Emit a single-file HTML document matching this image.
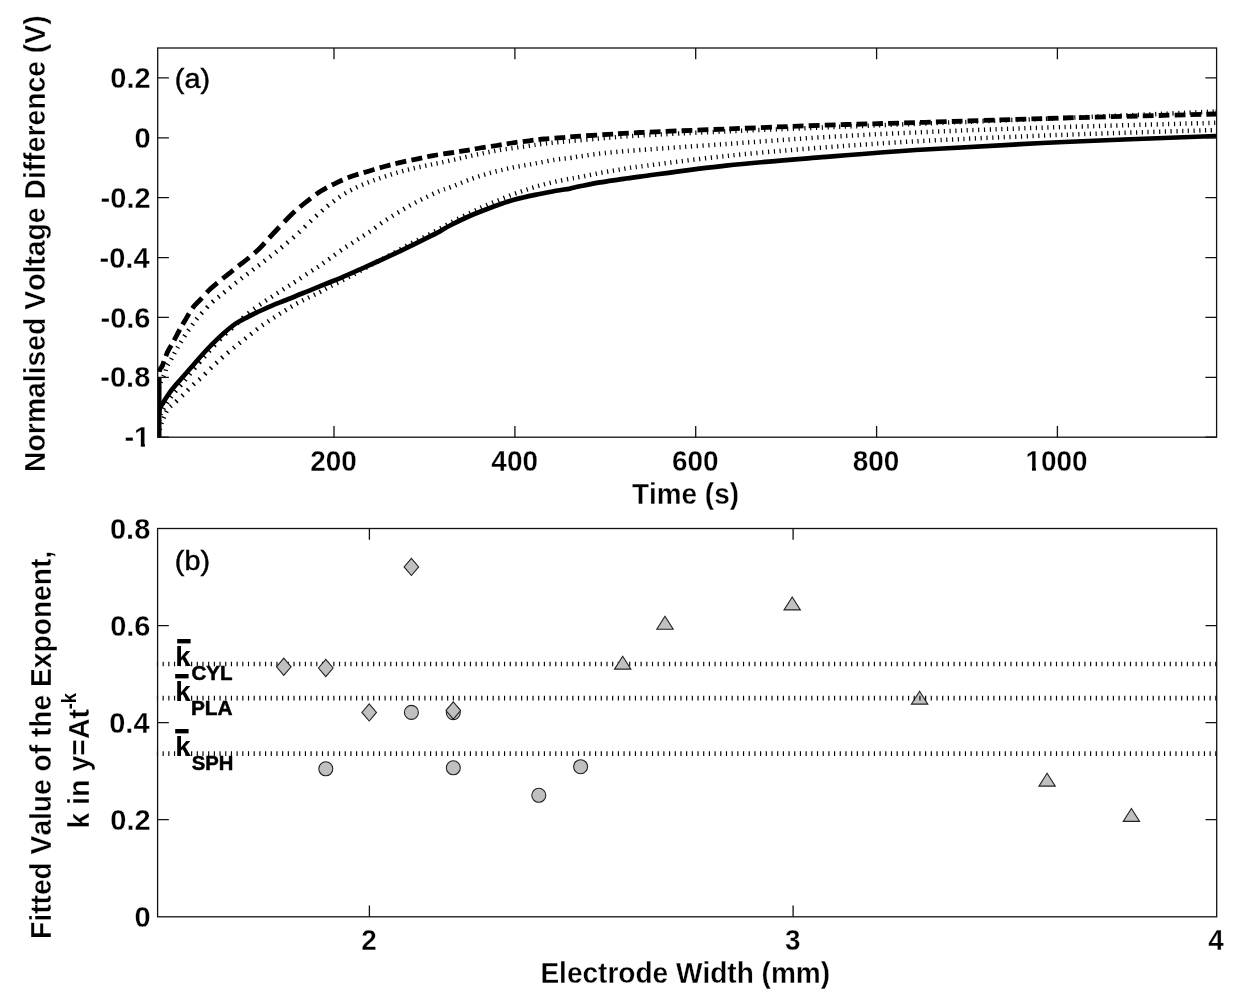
<!DOCTYPE html>
<html><head><meta charset="utf-8"><title>Figure</title>
<style>html,body{margin:0;padding:0;background:#fff}svg{display:block}text{font-family:"Liberation Sans",sans-serif;fill:#000;font-kerning:none}.b{font-weight:bold;stroke:#fff;stroke-width:0.3px;paint-order:fill stroke}.v{font-weight:bold;stroke:#fff;stroke-width:0.35px;paint-order:fill stroke}.k{font-weight:bold}.r{stroke:#000;stroke-width:0.45px}.s{font-weight:bold;stroke:#000;stroke-width:0.5px}</style></head><body>
<svg width="1250" height="1000" viewBox="0 0 1250 1000">
<rect width="1250" height="1000" fill="#fff"/>
<clipPath id="ct"><rect x="157.7" y="48.0" width="1058.9" height="390.2"/></clipPath>
<g clip-path="url(#ct)" fill="none" stroke="#000" stroke-width="4.5">
<path d="M158.0 394.0 C158.3 392.3 158.9 387.3 160.0 384.0 C161.1 380.7 163.3 376.9 164.5 374.0 C165.7 371.1 166.0 368.8 167.0 366.5 C168.0 364.2 169.4 362.4 170.5 360.5 C171.6 358.6 172.5 356.8 173.5 355.0 C174.5 353.2 175.4 351.4 176.5 349.5 C177.6 347.6 178.4 346.1 180.0 343.5 C181.6 340.9 183.8 337.2 186.0 334.0 C188.2 330.8 190.7 327.2 193.0 324.0 C195.3 320.8 196.8 318.6 200.0 315.0 C203.2 311.4 208.0 306.1 212.0 302.4 C216.0 298.7 220.0 295.9 224.0 292.6 C228.0 289.3 232.0 286.0 236.0 282.8 C240.0 279.6 244.0 276.6 248.0 273.5 C252.0 270.4 256.0 267.4 260.0 264.4 C264.0 261.3 268.0 258.3 272.0 255.2 C276.0 252.0 279.3 249.4 284.0 245.5 C288.7 241.6 295.0 236.1 300.0 231.5 C305.0 226.9 309.3 222.3 314.0 218.0 C318.7 213.7 323.3 209.6 328.0 205.8 C332.7 202.0 337.3 198.3 342.0 195.3 C346.7 192.3 351.3 189.9 356.0 187.6 C360.7 185.3 365.3 183.5 370.0 181.7 C374.7 179.9 379.3 178.4 384.0 176.8 C388.7 175.2 393.3 173.8 398.0 172.4 C402.7 171.1 407.3 169.8 412.0 168.7 C416.7 167.6 421.3 166.6 426.0 165.6 C430.7 164.6 434.7 163.9 440.0 162.8 C445.3 161.7 452.7 160.0 458.0 158.8 C463.3 157.6 467.3 156.6 472.0 155.6 C476.7 154.6 481.3 153.6 486.0 152.7 C490.7 151.8 495.3 150.8 500.0 150.0 C504.7 149.2 509.3 148.7 514.0 148.0 C518.7 147.3 523.3 146.7 528.0 146.0 C532.7 145.3 536.7 144.7 542.0 144.0 C547.3 143.3 550.3 142.9 560.0 142.0 C569.7 141.1 586.7 139.6 600.0 138.5 C613.3 137.4 619.0 136.7 640.0 135.5 C661.0 134.3 695.7 132.8 726.0 131.5 C756.3 130.2 788.8 128.8 822.0 127.5 C855.2 126.2 884.7 125.1 925.0 123.5 C965.3 121.9 1015.5 120.0 1064.0 118.0 C1112.5 116.0 1190.7 112.6 1216.0 111.5" stroke-dasharray="1.17 4.66 1.17 4.80 1.25 5.11 1.27 4.92 1.20 4.94 1.32 5.38 1.31 5.23 1.31 5.26 1.32 5.37 1.35 5.43 1.37 5.54 1.40 5.64 1.43 5.72 1.46 6.05 1.55 6.28 1.60 6.41 1.55 5.97 1.46 5.86 1.49 5.96 1.49 5.93 1.47 5.84 1.45 5.80 1.45 5.78 1.44 5.77 1.44 5.78 1.44 5.80 1.46 5.85 1.47 5.92 1.50 6.03 1.52 6.09 1.53 6.16 1.55 6.34 1.61 6.46 1.60 6.29 1.55 6.15 1.52 6.01 1.48 5.88 1.45 5.72 1.40 5.48 1.34 5.26 1.30 5.14 1.27 5.04 1.25 4.96 1.23 4.92 1.22 4.87 1.21 4.85 1.21 4.83 1.21 4.81 1.20 4.78 1.19 4.76 1.19 4.74 1.18 4.71 1.18 4.70 1.18 4.69 1.17 4.69 1.17 4.70 1.18 4.71 1.18 4.71 1.18 4.72 1.18 4.72 1.18 4.72 1.18 4.70 1.17 4.70 1.17 4.69 1.17 4.69 1.17 4.67 1.17 4.65 1.16 4.64 1.16 4.65 1.16 4.65 1.16 4.65 1.16 4.65 1.16 4.65 1.16 4.64 1.16 4.63 1.16 4.62 1.16 4.62 1.15 4.62 1.15 4.62 1.15 4.62 1.15 4.62 1.15 4.62 1.15 4.62 1.15 4.62 1.15 4.62 1.15 4.62 1.15 4.61 1.15 4.61 1.15 4.61 1.15 4.61 1.15 4.61 1.15 4.61 1.15 4.61 1.15 4.61 1.15 4.61 1.15 4.61 1.15 4.60 1.15 4.60 1.15 4.60 1.15 4.60 1.15 4.60 1.15 4.60 1.15 4.60 1.15 4.60 1.15 4.60 1.15 4.60 1.15 4.60 1.15 4.60 1.15 4.60 1.15 4.60 1.15 4.60 1.15 4.60 1.15 4.60 1.15 4.60 1.15 4.60 1.15 4.60 1.15 4.60 1.15 4.60 1.15 4.60 1.15 4.60 1.15 4.60 1.15 4.60 1.15 4.60 1.15 4.60 1.15 4.60 1.15 4.60 1.15 4.60 1.15 4.60 1.15 4.60 1.15 4.60 1.15 4.60 1.15 4.60 1.15 4.60 1.15 4.60 1.15 4.60 1.15 4.60 1.15 4.60 1.15 4.60 1.15 4.60 1.15 4.60 1.15 4.60 1.15 4.60 1.15 4.60 1.15 4.60 1.15 4.60 1.15 4.60 1.15 4.60 1.15 4.60 1.15 4.60 1.15 4.60 1.15 4.60 1.15 4.60 1.15 4.60 1.15 4.60 1.15 4.60 1.15 4.60 1.15 4.60 1.15 4.60 1.15 4.60 1.15 4.60 1.15 4.60 1.15 4.60 1.15 4.60 1.15 4.60 1.15 4.60 1.15 4.60 1.15 4.60 1.15 4.60 1.15 4.60 1.15 4.60 1.15 4.60 1.15 4.60 1.15 4.60 1.15 4.60 1.15 4.60 1.15 4.60 1.15 4.60 1.15 4.60 1.15 4.60 1.15 4.60 1.15 4.60 1.15 4.60 1.15 4.60 1.15 4.60 1.15 4.60 1.15 4.60 1.15 4.60 1.15 4.60 1.15 4.60 1.15 4.60 1.15 2.03"/>
<path d="M158.0 430.0 C158.3 427.7 159.0 419.7 160.0 416.0 C161.0 412.3 162.5 410.7 164.0 408.0 C165.5 405.3 167.2 402.7 169.0 400.0 C170.8 397.3 172.8 394.7 175.0 392.0 C177.2 389.3 179.6 386.9 182.0 384.0 C184.4 381.1 186.7 378.0 189.5 374.5 C192.3 371.0 196.6 365.8 199.0 363.0 C201.4 360.2 201.8 360.0 204.0 357.5 C206.2 355.0 208.7 351.7 212.0 348.0 C215.3 344.3 220.0 339.4 224.0 335.5 C228.0 331.6 232.7 327.6 236.0 324.5 C239.3 321.4 241.4 319.3 244.0 317.0 C246.6 314.7 248.5 313.1 251.6 310.8 C254.7 308.5 258.6 305.6 262.4 303.0 C266.2 300.4 270.4 297.6 274.4 295.0 C278.4 292.4 282.6 289.8 286.4 287.4 C290.2 285.0 293.3 283.1 297.2 280.5 C301.1 277.9 306.2 274.5 310.0 272.0 C313.8 269.5 316.7 267.8 320.0 265.5 C323.3 263.2 326.3 261.0 330.0 258.4 C333.7 255.7 337.7 252.6 342.0 249.6 C346.3 246.6 351.3 243.6 356.0 240.6 C360.7 237.6 365.3 234.7 370.0 231.5 C374.7 228.3 379.3 224.5 384.0 221.3 C388.7 218.2 393.3 215.4 398.0 212.6 C402.7 209.8 407.3 206.9 412.0 204.4 C416.7 201.9 421.3 199.6 426.0 197.3 C430.7 195.0 435.8 192.5 440.0 190.8 C444.2 189.1 445.7 189.0 451.0 187.0 C456.3 185.0 465.0 181.2 472.0 178.7 C479.0 176.2 486.0 174.1 493.0 172.2 C500.0 170.3 507.0 168.8 514.0 167.3 C521.0 165.9 528.0 164.8 535.0 163.5 C542.0 162.2 550.2 160.5 556.0 159.6 C561.8 158.7 566.0 158.5 570.0 158.0 C574.0 157.5 575.0 157.1 580.0 156.4 C585.0 155.7 593.3 154.4 600.0 153.6 C606.7 152.8 613.3 152.2 620.0 151.6 C626.7 151.0 622.3 151.3 640.0 150.0 C657.7 148.7 695.7 146.1 726.0 144.0 C756.3 141.9 788.8 139.3 822.0 137.3 C855.2 135.3 884.7 133.7 925.0 132.0 C965.3 130.3 1015.5 128.5 1064.0 127.0 C1112.5 125.5 1190.7 123.5 1216.0 122.8" stroke-dasharray="0.00 3.78 1.16 4.64 1.16 4.73 1.23 5.28 1.33 5.37 1.37 5.59 1.43 5.84 1.51 6.17 1.52 5.91 1.46 5.85 1.48 5.95 1.49 6.00 1.52 6.24 1.50 5.95 1.51 6.19 1.57 6.36 1.61 6.45 1.58 6.23 1.54 6.22 1.58 6.34 1.55 6.03 1.47 5.78 1.43 5.66 1.41 5.58 1.39 5.52 1.37 5.48 1.36 5.44 1.36 5.44 1.36 5.45 1.37 5.50 1.38 5.53 1.38 5.51 1.37 5.47 1.37 5.57 1.41 5.66 1.42 5.73 1.44 5.70 1.41 5.53 1.37 5.44 1.36 5.46 1.36 5.46 1.37 5.51 1.39 5.68 1.44 5.74 1.42 5.56 1.37 5.42 1.34 5.37 1.34 5.37 1.34 5.32 1.32 5.23 1.30 5.15 1.28 5.12 1.28 5.10 1.27 5.05 1.25 4.92 1.21 4.84 1.22 4.94 1.24 4.97 1.24 4.95 1.23 4.90 1.22 4.85 1.21 4.82 1.20 4.79 1.19 4.76 1.19 4.74 1.18 4.72 1.18 4.70 1.17 4.69 1.17 4.67 1.17 4.67 1.17 4.67 1.17 4.68 1.17 4.68 1.17 4.68 1.17 4.65 1.16 4.63 1.16 4.63 1.16 4.66 1.17 4.65 1.16 4.65 1.16 4.65 1.16 4.64 1.16 4.63 1.16 4.62 1.16 4.62 1.15 4.62 1.16 4.62 1.15 4.61 1.15 4.61 1.15 4.61 1.15 4.61 1.15 4.61 1.15 4.61 1.15 4.61 1.15 4.61 1.15 4.61 1.15 4.61 1.15 4.61 1.15 4.61 1.15 4.61 1.15 4.61 1.15 4.61 1.15 4.61 1.15 4.61 1.15 4.61 1.15 4.61 1.15 4.61 1.15 4.61 1.15 4.61 1.15 4.61 1.15 4.61 1.15 4.61 1.15 4.61 1.15 4.61 1.15 4.61 1.15 4.61 1.15 4.61 1.15 4.61 1.15 4.61 1.15 4.61 1.15 4.61 1.15 4.61 1.15 4.61 1.15 4.61 1.15 4.61 1.15 4.61 1.15 4.61 1.15 4.61 1.15 4.61 1.15 4.61 1.15 4.61 1.15 4.61 1.15 4.61 1.15 4.61 1.15 4.60 1.15 4.60 1.15 4.60 1.15 4.60 1.15 4.60 1.15 4.60 1.15 4.60 1.15 4.60 1.15 4.60 1.15 4.60 1.15 4.60 1.15 4.60 1.15 4.60 1.15 4.60 1.15 4.60 1.15 4.60 1.15 4.60 1.15 4.60 1.15 4.60 1.15 4.60 1.15 4.60 1.15 4.60 1.15 4.60 1.15 4.60 1.15 4.60 1.15 4.60 1.15 4.60 1.15 4.60 1.15 4.60 1.15 4.60 1.15 4.60 1.15 4.60 1.15 4.60 1.15 4.60 1.15 4.60 1.15 4.60 1.15 4.60 1.15 4.60 1.15 4.60 1.15 4.60 1.15 4.60 1.15 4.60 1.15 4.60 1.15 4.60 1.15 4.60 1.15 4.60 1.15 4.60 1.15 4.60 1.15 4.60 1.15 4.60 1.15 4.60 1.15 4.60 1.15 4.60 1.15 4.60 1.15 4.60 1.15 0.62"/>
<path d="M158.0 437.0 C158.5 435.0 160.0 428.3 161.0 425.0 C162.0 421.7 162.8 419.7 164.0 417.0 C165.2 414.3 166.3 411.2 168.0 409.0 C169.7 406.8 171.3 406.0 174.0 403.5 C176.7 401.0 181.5 396.4 184.0 394.0 C186.5 391.6 187.2 390.8 189.0 389.0 C190.8 387.2 193.0 384.8 195.0 383.0 C197.0 381.2 199.1 379.8 201.0 378.0 C202.9 376.2 204.7 374.3 206.5 372.5 C208.3 370.7 210.2 368.8 212.0 367.0 C213.8 365.2 215.5 363.8 217.5 362.0 C219.5 360.2 220.9 358.7 224.0 356.0 C227.1 353.3 232.0 349.2 236.0 346.0 C240.0 342.8 244.0 339.7 248.0 336.5 C252.0 333.3 256.0 329.9 260.0 327.0 C264.0 324.1 268.0 321.6 272.0 319.0 C276.0 316.4 280.0 313.7 284.0 311.2 C288.0 308.7 292.0 306.2 296.0 304.0 C300.0 301.8 304.0 299.8 308.0 297.8 C312.0 295.8 316.3 293.9 320.0 292.0 C323.7 290.1 325.0 289.1 330.0 286.5 C335.0 283.9 343.3 280.0 350.0 276.5 C356.7 273.0 363.3 269.1 370.0 265.5 C376.7 261.9 383.3 258.6 390.0 255.0 C396.7 251.4 403.3 247.5 410.0 244.0 C416.7 240.5 423.2 237.6 430.0 234.0 C436.8 230.4 444.0 226.2 451.0 222.5 C458.0 218.8 466.2 214.8 472.0 212.0 C477.8 209.2 481.3 207.5 486.0 205.4 C490.7 203.3 495.3 201.5 500.0 199.6 C504.7 197.7 509.3 195.7 514.0 194.0 C518.7 192.3 523.3 190.7 528.0 189.2 C532.7 187.7 537.3 186.2 542.0 184.9 C546.7 183.6 551.3 182.5 556.0 181.5 C560.7 180.5 566.0 179.4 570.0 178.7 C574.0 177.9 575.0 177.9 580.0 177.0 C585.0 176.1 593.3 174.2 600.0 173.0 C606.7 171.8 613.3 170.7 620.0 169.6 C626.7 168.5 622.3 168.8 640.0 166.5 C657.7 164.2 695.7 159.2 726.0 156.0 C756.3 152.8 788.8 150.1 822.0 147.6 C855.2 145.1 884.7 142.9 925.0 140.8 C965.3 138.7 1015.5 136.6 1064.0 134.8 C1112.5 133.0 1190.7 130.8 1216.0 130.0" stroke-dasharray="0.00 1.80 1.18 4.73 1.19 4.78 1.21 4.94 1.25 5.03 1.29 5.81 1.48 6.17 1.58 6.35 1.59 6.44 1.62 6.45 1.60 6.01 1.49 6.35 1.61 6.47 1.61 6.24 1.55 6.31 1.55 6.06 1.50 5.97 1.49 5.91 1.47 5.85 1.46 5.88 1.48 5.90 1.46 5.71 1.39 5.51 1.37 5.49 1.38 5.50 1.37 5.44 1.35 5.39 1.34 5.30 1.31 5.19 1.29 5.14 1.28 5.10 1.27 5.12 1.29 5.28 1.32 5.21 1.29 5.13 1.28 5.13 1.28 5.15 1.30 5.22 1.31 5.26 1.32 5.27 1.31 5.23 1.30 5.19 1.30 5.18 1.30 5.20 1.30 5.24 1.32 5.27 1.32 5.26 1.31 5.20 1.29 5.14 1.28 5.12 1.28 5.15 1.30 5.22 1.31 5.27 1.32 5.26 1.31 5.21 1.30 5.16 1.29 5.14 1.28 5.12 1.28 5.12 1.28 5.10 1.27 5.05 1.25 4.99 1.24 4.96 1.24 4.97 1.24 4.96 1.24 4.92 1.22 4.87 1.21 4.85 1.21 4.83 1.21 4.81 1.20 4.77 1.19 4.74 1.18 4.72 1.18 4.70 1.17 4.69 1.17 4.68 1.16 4.66 1.17 4.69 1.17 4.70 1.17 4.69 1.17 4.68 1.17 4.67 1.17 4.66 1.17 4.66 1.17 4.68 1.17 4.66 1.16 4.64 1.16 4.64 1.16 4.64 1.16 4.64 1.16 4.64 1.16 4.64 1.16 4.64 1.16 4.64 1.16 4.64 1.16 4.64 1.16 4.63 1.16 4.63 1.16 4.63 1.16 4.63 1.16 4.63 1.16 4.63 1.16 4.62 1.16 4.62 1.16 4.62 1.16 4.62 1.16 4.62 1.16 4.62 1.15 4.62 1.15 4.62 1.15 4.62 1.15 4.62 1.15 4.62 1.15 4.62 1.15 4.62 1.15 4.61 1.15 4.61 1.15 4.61 1.15 4.61 1.15 4.61 1.15 4.61 1.15 4.61 1.15 4.61 1.15 4.61 1.15 4.61 1.15 4.61 1.15 4.61 1.15 4.61 1.15 4.61 1.15 4.61 1.15 4.61 1.15 4.61 1.15 4.61 1.15 4.61 1.15 4.61 1.15 4.61 1.15 4.61 1.15 4.61 1.15 4.61 1.15 4.61 1.15 4.61 1.15 4.61 1.15 4.61 1.15 4.60 1.15 4.60 1.15 4.60 1.15 4.60 1.15 4.60 1.15 4.60 1.15 4.60 1.15 4.60 1.15 4.60 1.15 4.60 1.15 4.60 1.15 4.60 1.15 4.60 1.15 4.60 1.15 4.60 1.15 4.60 1.15 4.60 1.15 4.60 1.15 4.60 1.15 4.60 1.15 4.60 1.15 4.60 1.15 4.60 1.15 4.60 1.15 4.60 1.15 4.60 1.15 4.60 1.15 4.60 1.15 4.60 1.15 4.60 1.15 4.60 1.15 4.60 1.15 4.60 1.15 4.60 1.15 4.60 1.15 4.60 1.15 4.60 1.15 4.60 1.15 4.60 1.15 4.60 1.15 4.60 1.15 4.60 1.15 4.60 1.15 4.60 1.15 4.02"/>
<path d="M158.0 388.0 C158.2 385.2 158.8 374.8 159.5 371.0 C160.2 367.2 161.2 368.7 162.5 365.5 C163.8 362.3 165.7 356.0 167.5 352.0 C169.3 348.0 171.6 345.0 173.5 341.5 C175.4 338.0 177.1 334.5 179.0 331.0 C180.9 327.5 182.7 324.4 185.0 320.5 C187.3 316.6 190.5 310.9 193.0 307.5 C195.5 304.1 197.0 303.2 200.0 300.0 C203.0 296.8 206.8 292.2 210.8 288.5 C214.8 284.8 219.8 280.9 224.0 277.5 C228.2 274.1 232.0 271.2 236.0 268.0 C240.0 264.8 244.0 261.8 248.0 258.5 C252.0 255.2 256.3 251.6 260.0 248.0 C263.7 244.4 265.0 242.3 270.0 237.0 C275.0 231.7 284.3 221.6 290.0 216.0 C295.7 210.4 299.0 207.7 304.2 203.5 C309.4 199.3 315.6 194.4 321.0 191.0 C326.4 187.6 331.3 185.2 336.4 182.8 C341.5 180.4 346.4 178.2 351.8 176.3 C357.2 174.4 363.0 172.9 368.6 171.2 C374.2 169.5 380.0 167.7 385.4 166.2 C390.8 164.7 395.4 163.6 400.8 162.4 C406.2 161.2 412.2 159.9 417.6 158.8 C423.0 157.7 427.6 156.6 433.0 155.6 C438.4 154.6 444.7 153.8 450.0 153.0 C455.3 152.2 460.0 151.4 465.0 150.6 C470.0 149.8 474.7 148.8 480.0 148.0 C485.3 147.2 491.7 146.3 497.0 145.5 C502.3 144.7 506.7 143.8 512.0 143.0 C517.3 142.2 523.7 141.5 529.0 140.8 C534.3 140.1 538.6 139.5 544.0 139.0 C549.4 138.5 556.3 138.1 561.6 137.7 C566.9 137.3 568.3 136.9 576.0 136.4 C583.7 135.9 597.3 135.1 608.0 134.4 C618.7 133.8 620.3 133.4 640.0 132.5 C659.7 131.6 695.7 130.2 726.0 129.0 C756.3 127.8 788.8 126.4 822.0 125.3 C855.2 124.2 884.7 123.5 925.0 122.3 C965.3 121.1 1015.5 119.4 1064.0 118.0 C1112.5 116.6 1190.7 114.7 1216.0 114.0" stroke-dasharray="10.83 5.13 11.96 5.40 12.09 5.90 12.20 5.86 12.53 6.04 14.53 6.89 14.56 6.54 13.80 6.49 13.82 6.68 14.66 6.82 14.79 7.03 15.01 6.76 13.83 6.36 12.81 5.74 11.92 5.52 11.43 5.31 11.27 5.33 11.21 5.25 11.08 5.21 11.04 5.22 10.98 5.16 10.92 5.16 10.95 5.18 10.94 5.15 10.93 5.18 10.92 5.14 10.88 5.14 10.85 5.11 10.83 5.13 10.83 5.11 10.82 5.11 10.82 5.11 10.82 5.11 10.81 5.10 10.81 5.10 10.81 5.10 10.81 5.10 10.81 5.10 10.81 5.10 10.81 5.10 10.81 5.10 10.81 5.10 10.81 5.10 10.81 5.10 10.81 5.10 10.81 5.10 10.80 5.10 10.80 5.10 10.80 5.10 10.80 5.10 10.80 5.10 10.80 5.10 10.81 5.10 10.81 5.10 10.81 5.10 10.81 5.10 10.81 5.10 10.81 5.10 10.80 5.10 10.80 5.10 10.80 5.10 10.80 5.10 10.80 5.10 10.80 5.10 10.80 5.10 10.80 5.10 10.80 5.10 10.80 5.10 10.80 5.10 9.73 0.00" stroke-width="4.8"/>
<path d="M158.0 428.0 C158.2 425.0 158.7 414.2 159.5 410.0 C160.3 405.8 161.6 405.5 163.0 403.0 C164.4 400.5 166.2 397.7 168.0 395.0 C169.8 392.3 171.8 389.7 174.0 387.0 C176.2 384.3 178.7 381.7 181.0 379.0 C183.3 376.3 185.7 373.7 188.0 371.0 C190.3 368.3 192.7 365.7 195.0 363.0 C197.3 360.3 199.2 358.1 202.0 355.0 C204.8 351.9 208.3 348.1 212.0 344.4 C215.7 340.7 220.0 336.5 224.0 333.0 C228.0 329.5 232.0 326.1 236.0 323.4 C240.0 320.7 244.0 318.9 248.0 316.8 C252.0 314.7 256.0 312.9 260.0 311.0 C264.0 309.1 268.0 307.3 272.0 305.6 C276.0 303.9 280.0 302.4 284.0 300.8 C288.0 299.2 291.7 297.8 296.0 296.0 C300.3 294.2 304.7 292.5 310.0 290.3 C315.3 288.1 322.7 285.1 328.0 283.0 C333.3 280.9 337.3 279.4 342.0 277.4 C346.7 275.4 351.3 273.3 356.0 271.2 C360.7 269.1 365.3 267.0 370.0 264.9 C374.7 262.8 379.3 260.7 384.0 258.6 C388.7 256.5 393.3 254.4 398.0 252.2 C402.7 250.0 407.3 247.6 412.0 245.3 C416.7 243.0 421.3 240.6 426.0 238.3 C430.7 236.0 435.8 233.5 440.0 231.3 C444.2 229.1 445.7 227.7 451.0 225.0 C456.3 222.3 465.0 218.0 472.0 215.0 C479.0 212.0 487.8 208.8 493.0 206.8 C498.2 204.8 499.5 204.4 503.0 203.2 C506.5 202.0 508.7 201.2 514.0 199.8 C519.3 198.4 528.0 196.4 535.0 194.9 C542.0 193.4 550.2 191.9 556.0 190.8 C561.8 189.8 566.0 189.3 570.0 188.6 C574.0 187.8 575.0 187.3 580.0 186.3 C585.0 185.3 593.3 183.6 600.0 182.4 C606.7 181.2 613.3 180.4 620.0 179.4 C626.7 178.4 622.3 178.9 640.0 176.6 C657.7 174.3 695.7 168.8 726.0 165.6 C756.3 162.4 788.8 159.9 822.0 157.2 C855.2 154.5 884.7 152.0 925.0 149.5 C965.3 147.0 1015.5 144.2 1064.0 142.0 C1112.5 139.8 1190.7 137.0 1216.0 136.0" stroke-width="4.7"/>
<path d="M159.4 377V438" stroke-width="4.2"/>
</g>
<rect x="157.7" y="48.0" width="1058.9" height="389.2" stroke="#111" stroke-width="1.3" fill="none"/>
<text class="b" transform="translate(310.25,470.80) scale(0.9620,1)" font-size="29.0">200</text>
<text class="b" transform="translate(491.37,470.80) scale(0.9620,1)" font-size="29.0">400</text>
<text class="b" transform="translate(671.93,470.80) scale(0.9620,1)" font-size="29.0">600</text>
<text class="b" transform="translate(852.85,470.80) scale(0.9620,1)" font-size="29.0">800</text>
<text class="b" transform="translate(1025.51,470.80) scale(0.9620,1)" font-size="29.0">1000</text>
<rect x="1026.57" y="467.24" width="5.40" height="4.26" fill="#fff"/>
<rect x="1035.90" y="467.24" width="5.05" height="4.26" fill="#fff"/>
<text class="b" transform="translate(110.25,88.04) scale(1.0000,1)" font-size="29.0">0.2</text>
<text class="b" transform="translate(134.46,147.92) scale(1.0000,1)" font-size="29.0">0</text>
<text class="b" transform="translate(100.59,207.79) scale(1.0000,1)" font-size="29.0">-0.2</text>
<text class="b" transform="translate(99.58,267.67) scale(1.0000,1)" font-size="29.0">-0.4</text>
<text class="b" transform="translate(100.48,327.55) scale(1.0000,1)" font-size="29.0">-0.6</text>
<text class="b" transform="translate(100.32,387.42) scale(1.0000,1)" font-size="29.0">-0.8</text>
<text class="b" transform="translate(124.42,447.30) scale(1.0000,1)" font-size="29.0">-1</text>
<rect x="135.21" y="443.74" width="5.59" height="4.26" fill="#fff"/>
<rect x="144.88" y="443.74" width="5.22" height="4.26" fill="#fff"/>
<path d="M334.0 437.2v-11.2 M334.0 48.0v11.2 M514.9 437.2v-11.2 M514.9 48.0v11.2 M695.7 437.2v-11.2 M695.7 48.0v11.2 M876.6 437.2v-11.2 M876.6 48.0v11.2 M1057.4 437.2v-11.2 M1057.4 48.0v11.2 M157.7 77.9h11.2 M1216.6 77.9h-11.2 M157.7 137.8h11.2 M1216.6 137.8h-11.2 M157.7 197.7h11.2 M1216.6 197.7h-11.2 M157.7 257.6h11.2 M1216.6 257.6h-11.2 M157.7 317.4h11.2 M1216.6 317.4h-11.2 M157.7 377.3h11.2 M1216.6 377.3h-11.2 M157.7 437.2h11.2 M1216.6 437.2h-11.2" stroke="#111" stroke-width="1.3" fill="none"/>
<text class="r" transform="translate(174.82,88.30) scale(1.0426,1)" font-size="27.6">(a)</text>
<text class="b" transform="translate(631.99,503.60) scale(0.9624,1)" font-size="29.0">Time (s)</text>
<text class="v" transform="translate(45.40,471.90) rotate(-90) scale(0.9775,1)" font-size="29.0">Normalised Voltage Difference (V)</text>
<g fill="none" stroke="#000" stroke-width="4.7" stroke-dasharray="1.15 4.54">
<path d="M156.9 664.0H1216.7"/>
<path d="M156.9 753.6H1216.7"/>
</g>
<circle cx="325.8" cy="768.8" r="7.0" fill="#c0c0c0" stroke="#222" stroke-width="1.1"/>
<circle cx="411.4" cy="712.4" r="7.0" fill="#c0c0c0" stroke="#222" stroke-width="1.1"/>
<circle cx="453.3" cy="712.6" r="7.0" fill="#c0c0c0" stroke="#222" stroke-width="1.1"/>
<circle cx="453.3" cy="767.8" r="7.0" fill="#c0c0c0" stroke="#222" stroke-width="1.1"/>
<circle cx="538.8" cy="795.3" r="7.0" fill="#c0c0c0" stroke="#222" stroke-width="1.1"/>
<circle cx="580.6" cy="766.7" r="7.0" fill="#c0c0c0" stroke="#222" stroke-width="1.1"/>
<path d="M283.8 658.2l7.3 8.6l-7.3 8.6l-7.3-8.6z" fill="#c0c0c0" stroke="#222" stroke-width="1.1"/>
<path d="M325.8 659.4l7.3 8.6l-7.3 8.6l-7.3-8.6z" fill="#c0c0c0" stroke="#222" stroke-width="1.1"/>
<path d="M411.4 558.3l7.3 8.6l-7.3 8.6l-7.3-8.6z" fill="#c0c0c0" stroke="#222" stroke-width="1.1"/>
<path d="M369.2 703.8l7.3 8.6l-7.3 8.6l-7.3-8.6z" fill="#c0c0c0" stroke="#222" stroke-width="1.1"/>
<path d="M453.3 701.9l7.3 8.6l-7.3 8.6l-7.3-8.6z" fill="#c0c0c0" stroke="#222" stroke-width="1.1"/>
<path d="M622.7 656.2l8.2 12.9h-16.4z" fill="#c0c0c0" stroke="#222" stroke-width="1.1"/>
<path d="M665.0 616.3l8.2 12.9h-16.4z" fill="#c0c0c0" stroke="#222" stroke-width="1.1"/>
<path d="M792.2 597.0l8.2 12.9h-16.4z" fill="#c0c0c0" stroke="#222" stroke-width="1.1"/>
<path d="M919.6 691.2l8.2 12.9h-16.4z" fill="#c0c0c0" stroke="#222" stroke-width="1.1"/>
<path d="M1047.1 773.2l8.2 12.9h-16.4z" fill="#c0c0c0" stroke="#222" stroke-width="1.1"/>
<path d="M1131.4 808.5l8.2 12.9h-16.4z" fill="#c0c0c0" stroke="#222" stroke-width="1.1"/>
<path d="M156.9 698.1H1216.7" fill="none" stroke="#000" stroke-width="4.7" stroke-dasharray="1.15 4.54"/>
<rect x="157.6" y="528.5" width="1059.1" height="388.3" stroke="#111" stroke-width="1.3" fill="none"/>
<text class="b" transform="translate(361.14,950.00) scale(0.9620,1)" font-size="29.0">2</text>
<text class="b" transform="translate(784.89,950.00) scale(0.9620,1)" font-size="29.0">3</text>
<text class="b" transform="translate(1208.21,950.00) scale(0.9620,1)" font-size="29.0">4</text>
<text class="b" transform="translate(109.98,538.60) scale(1.0000,1)" font-size="29.0">0.8</text>
<text class="b" transform="translate(110.13,635.68) scale(1.0000,1)" font-size="29.0">0.6</text>
<text class="b" transform="translate(109.24,732.75) scale(1.0000,1)" font-size="29.0">0.4</text>
<text class="b" transform="translate(110.25,829.82) scale(1.0000,1)" font-size="29.0">0.2</text>
<text class="b" transform="translate(134.46,926.90) scale(1.0000,1)" font-size="29.0">0</text>
<path d="M369.4 916.8v-11.2 M369.4 528.5v11.2 M793.1 916.8v-11.2 M793.1 528.5v11.2 M157.6 625.6h11.2 M1216.7 625.6h-11.2 M157.6 722.6h11.2 M1216.7 722.6h-11.2 M157.6 819.7h11.2 M1216.7 819.7h-11.2" stroke="#111" stroke-width="1.3" fill="none"/>
<text class="r" transform="translate(174.82,569.60) scale(1.0426,1)" font-size="27.6">(b)</text>
<text class="b" transform="translate(540.42,983.00) scale(0.9670,1)" font-size="29.0">Electrode Width (mm)</text>
<text class="v" transform="translate(51.00,938.89) rotate(-90) scale(0.9717,1)" font-size="29.0">Fitted Value of the Exponent,</text>
<text class="v" transform="translate(88.90,828.69) rotate(-90) scale(0.9849,1)" font-size="29.0">k in y=At</text>
<text class="k" transform="translate(76.00,709.32) rotate(-90) scale(0.8941,1)" font-size="20.5">-k</text>
<text class="k" transform="translate(175.25,665.60) scale(1.0261,1)" font-size="27.2">k</text>
<text class="s" transform="translate(191.46,679.60) scale(1.0093,1)" font-size="20.4">CYL</text>
<rect x="177.2" y="639.0" width="13.4" height="4.4" fill="#000"/>
<text class="k" transform="translate(175.25,700.60) scale(1.0261,1)" font-size="27.2">k</text>
<text class="s" transform="translate(190.91,714.60) scale(1.0206,1)" font-size="20.4">PLA</text>
<rect x="175.2" y="674.0" width="13.4" height="4.4" fill="#000"/>
<text class="k" transform="translate(175.25,755.60) scale(1.0261,1)" font-size="27.2">k</text>
<text class="s" transform="translate(191.72,769.60) scale(0.9929,1)" font-size="20.4">SPH</text>
<rect x="175.2" y="729.0" width="13.4" height="4.4" fill="#000"/>
</svg></body></html>
